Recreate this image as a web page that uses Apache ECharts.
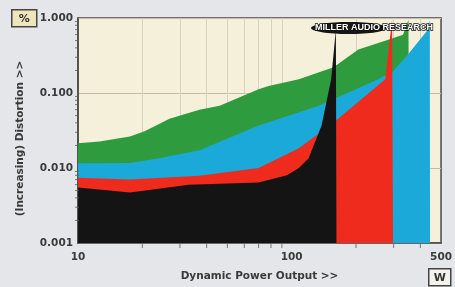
<!DOCTYPE html>
<html>
<head>
<meta charset="utf-8">
<script src="https://cdn.jsdelivr.net/npm/echarts@6/dist/echarts.min.js"></script>
<style>
  html, body { margin: 0; padding: 0; background: #e4e6ea; }
  #chart { width: 455px; height: 287px; }
</style>
</head>
<body>
<div id="chart"></div>
<script>
// power (W) / distortion (%) pairs, each curve drops to the floor at its end
const greenP = [10, 12.6, 17.5, 20.5, 26.8, 37, 46, 70, 78, 108, 157, 205, 283, 332, 352, 355, 355];
const greenD = [0.0213, 0.0225, 0.0264, 0.031, 0.0455, 0.0598, 0.0675, 0.112, 0.124, 0.153, 0.22, 0.379, 0.513, 0.598, 0.95, 1.0, 0.001];
const blueP = [10, 17.5, 24, 37, 70, 134, 254, 298, 350, 434, 443, 444];
const blueD = [0.0116, 0.0117, 0.0135, 0.0173, 0.0368, 0.0675, 0.153, 0.195, 0.326, 0.695, 0.94, 0.001];
const redP = [10, 17.5, 37, 70, 108, 134, 165, 274, 295, 298, 298];
const redD = [0.0074, 0.0070, 0.0079, 0.0100, 0.0183, 0.0289, 0.0455, 0.153, 0.94, 0.94, 0.001];
const blackP = [10, 17.5, 33, 70, 95, 108, 120, 138, 153, 161, 162];
const blackD = [0.0055, 0.0047, 0.0060, 0.0064, 0.0080, 0.0100, 0.0135, 0.0368, 0.153, 0.7, 0.001];

const xLabels = [10, 100, 500];
const xMinor = [20, 30, 40, 50, 60, 70, 80, 90, 200, 300, 400];
const yMinor = [0.002, 0.003, 0.004, 0.005, 0.006, 0.007, 0.008, 0.009,
                0.02, 0.03, 0.04, 0.05, 0.06, 0.07, 0.08, 0.09,
                0.2, 0.3, 0.4, 0.5, 0.6, 0.7, 0.8, 0.9];

function pairs(p, d) {
	return p.map((v, i) => [v, d[i]]);
}

function area(name, p, d, color, z) {
	return {
		name: name,
		type: 'line',
		data: pairs(p, d),
		showSymbol: false,
		silent: true,
		z: z,
		lineStyle: { width: 0 },
		areaStyle: { color: color, opacity: 1, origin: 'start' },
		animation: false
	};
}

const chart = echarts.init(document.getElementById('chart'));
const txt = '#3a3a3a';
const font = 'DejaVu Sans';

const option = {
	backgroundColor: '#e4e6ea',
	animation: false,
	grid: {
		left: 78, right: 12, top: 18, bottom: 41,
		show: true,
		backgroundColor: '#f4f0d9',
		borderColor: '#4a4a4a',
		borderWidth: 1.5
	},
	xAxis: {
		type: 'log',
		logBase: 10,
		min: 10,
		max: 500,
		name: 'Dynamic Power Output >>',
		nameLocation: 'middle',
		nameGap: 28,
		nameTextStyle: { color: txt, fontWeight: 'bold', fontSize: 10.5, fontFamily: font },
		axisLine: { lineStyle: { color: '#4a4a4a', width: 1.5 } },
		axisTick: { show: false },
		splitLine: { show: false },
		axisLabel: {
			color: txt, fontWeight: 'bold', fontSize: 10.5, fontFamily: font, margin: 9,
			showMaxLabel: true,
			formatter: v => {
				const r = Math.round(v);
				return xLabels.indexOf(r) >= 0 ? String(r) : '';
			}
		}
	},
	yAxis: {
		type: 'log',
		logBase: 10,
		min: 0.001,
		max: 1,
		name: '(Increasing) Distortion >>',
		nameLocation: 'middle',
		nameGap: 52,
		nameTextStyle: { color: txt, fontWeight: 'bold', fontSize: 10.5, fontFamily: font, padding: [0, 16, 0, 0] },
		axisLine: { lineStyle: { color: '#4a4a4a', width: 1.5 } },
		axisTick: { show: false },
		splitLine: { show: true, lineStyle: { color: '#c9b9aa', width: 1 } },
		axisLabel: {
			color: txt, fontWeight: 'bold', fontSize: 10.5, fontFamily: font, margin: 5,
			formatter: v => Number(v).toFixed(3)
		}
	},
	series: [
		{
			type: 'line',
			data: [],
			silent: true,
			z: 1,
			markLine: {
				z: 1,
				silent: true,
				symbol: 'none',
				label: { show: false },
				lineStyle: { color: '#d8d2c2', width: 1, type: 'solid' },
				data: xMinor.map(v => ({ xAxis: v }))
			}
		},
		area('green', greenP, greenD, '#2f9b3f', 2),
		area('blue', blueP, blueD, '#1aa9d8', 3),
		area('red', redP, redD, '#ef2b1e', 4),
		area('black', blackP, blackD, '#141414', 5),
		{
			type: 'scatter',
			silent: true,
			z: 6,
			symbol: 'rect',
			symbolSize: [1, 4],
			symbolOffset: [0, 3],
			itemStyle: { color: '#5a5a5a' },
			data: xMinor.map(v => [v, 0.001])
		},
		{
			type: 'scatter',
			silent: true,
			z: 6,
			symbol: 'rect',
			symbolSize: [4, 1],
			symbolOffset: [-1, 0],
			itemStyle: { color: '#5a5a5a' },
			data: yMinor.map(v => [10, v])
		}
	],
	graphic: [
		{
			type: 'group', left: 11, top: 9,
			children: [
				{ type: 'rect', shape: { x: 0, y: 0, width: 25, height: 17 }, style: { fill: '#efe5bd', stroke: '#444', lineWidth: 1.5 } },
				{ type: 'text', x: 12.5, y: 9, style: { text: '%', fill: '#333', font: 'bold 11px DejaVu Sans', align: 'center', verticalAlign: 'middle' } }
			]
		},
		{
			type: 'group', left: 428, top: 268,
			children: [
				{ type: 'rect', shape: { x: 0, y: 0, width: 22, height: 17 }, style: { fill: '#f4f2ea', stroke: '#444', lineWidth: 1.5 } },
				{ type: 'text', x: 11, y: 9, style: { text: 'W', fill: '#333', font: 'bold 11px DejaVu Sans', align: 'center', verticalAlign: 'middle' } }
			]
		},
		{
			type: 'ellipse', z: 100,
			shape: { cx: 349, cy: 28, rx: 38, ry: 6 },
			style: { fill: '#161616' }
		},
		{
			type: 'text', z: 101, x: 315, y: 28,
			style: {
				text: 'MILLER AUDIO RESEARCH', fill: '#fff', stroke: '#111', lineWidth: 1.5,
				font: 'bold 9px Liberation Sans', verticalAlign: 'middle'
			}
		}
	]
};

chart.setOption(option);
</script>
</body>
</html>
